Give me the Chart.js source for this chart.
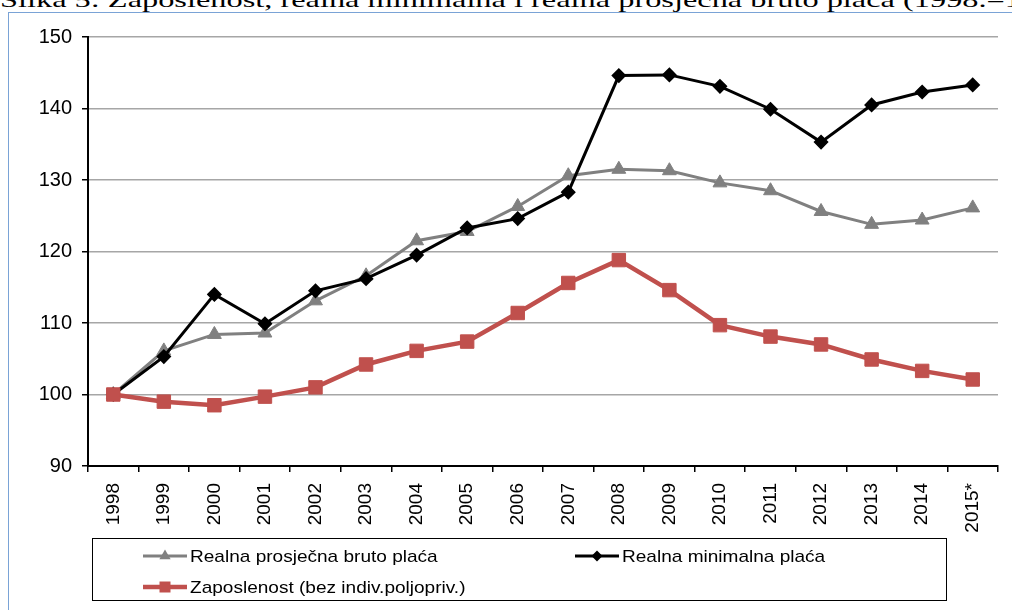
<!DOCTYPE html>
<html>
<head>
<meta charset="utf-8">
<script src="https://cdn.jsdelivr.net/npm/chart.js@4.4.1/dist/chart.umd.min.js"></script>
<style>
  html, body { margin: 0; padding: 0; background: #fff; overflow: hidden; }
  body { width: 1012px; height: 610px; position: relative; }
  #title { position: absolute; left: 0; top: -11px; white-space: nowrap;
           font-family: "Liberation Serif", "Times New Roman", serif; font-size: 22px; line-height: 22px;
           color: #000; transform-origin: 0 0; }
  #frame { position: absolute; left: 8px; top: 12px; width: 1200px; height: 800px;
           border: 1.5px solid #7aa3d6; box-sizing: border-box; }
  #wrap { position: absolute; left: 9px; top: 13px; width: 1003px; height: 597px; }
</style>
</head>
<body>
<div id="title">Slika 5: Zaposlenost, realna minimalna i realna prosječna bruto plaća (1998.=100)</div>
<div id="frame"></div>
<div id="wrap"><canvas id="c" width="1003" height="597"></canvas></div>
<script>
const categories = ["1998","1999","2000","2001","2002","2003","2004","2005","2006","2007","2008","2009","2010","2011","2012","2013","2014","2015*"];
const prosjecnaPlaca = [100, 106.1, 108.4, 108.6, 113.1, 116.6, 121.5, 122.8, 126.3, 130.6, 131.5, 131.3, 129.6, 128.5, 125.6, 123.8, 124.4, 126.1];
const minimalnaPlaca = [100, 105.3, 114.0, 109.9, 114.5, 116.2, 119.5, 123.3, 124.6, 128.3, 144.6, 144.7, 143.1, 139.9, 135.3, 140.5, 142.3, 143.3];
const zaposlenost    = [100, 99.0, 98.5, 99.7, 101.0, 104.2, 106.1, 107.4, 111.4, 115.6, 118.8, 114.6, 109.7, 108.1, 107.0, 104.9, 103.3, 102.1];
const seriesLabels = ["Realna prosječna bruto plaća", "Realna minimalna plaća", "Zaposlenost (bez indiv.poljopriv.)"];
const yTicks = [90, 100, 110, 120, 130, 140, 150];

// fit title width
(function(){
  const t = document.getElementById('title');
  const cv = document.createElement('canvas').getContext('2d');
  cv.font = '22px "Liberation Serif"';
  const w = cv.measureText('Slika 5: Zaposlenost, realna minimalna i realna prosječna bruto plaća ').width;
  t.style.transform = 'scaleX(' + (903 / w) + ')';
})();

function drawMarker(ctx, style, x, y, r, fill) {
  ctx.fillStyle = fill;
  ctx.beginPath();
  if (style === 'triangle') {
    ctx.moveTo(x, y - r);
    ctx.lineTo(x + r * 0.866, y + r * 0.5);
    ctx.lineTo(x - r * 0.866, y + r * 0.5);
  } else if (style === 'rectRot') {
    ctx.moveTo(x, y - r); ctx.lineTo(x + r, y); ctx.lineTo(x, y + r); ctx.lineTo(x - r, y);
  } else {
    ctx.rect(x - r, y - r, 2 * r, 2 * r);
  }
  ctx.closePath();
  ctx.fill();
}

const boxLegend = {
  id: 'boxLegend',
  afterDraw(chart) {
    const ctx = chart.ctx;
    ctx.save();
    ctx.strokeStyle = '#000';
    ctx.lineWidth = 1;
    ctx.strokeRect(83.5, 525.5, 854, 62);
    const spots = [[134, 543], [566, 543], [134, 574]];
    const mk = [['triangle', 6.5], ['rectRot', 5.5], ['rect', 5.5]];
    chart.data.datasets.forEach((ds, i) => {
      const [x, y] = spots[i];
      ctx.strokeStyle = ds.borderColor;
      ctx.lineWidth = ds.borderWidth;
      ctx.beginPath(); ctx.moveTo(x, y); ctx.lineTo(x + 44, y); ctx.stroke();
      drawMarker(ctx, mk[i][0], x + 22, y, mk[i][1], ds.pointBackgroundColor);
      ctx.save();
      ctx.translate(x + 47, y);
      ctx.scale(1.12, 1);
      ctx.fillStyle = '#000';
      ctx.font = '17px "Liberation Sans", Arial, sans-serif';
      ctx.textBaseline = 'middle';
      ctx.fillText(ds.label, 0, 1);
      ctx.restore();
    });
    ctx.restore();
  }
};

new Chart(document.getElementById('c'), {
  type: 'line',
  data: {
    labels: categories,
    datasets: [
      { label: seriesLabels[0], data: prosjecnaPlaca, borderColor: '#808080', backgroundColor: '#808080',
        pointBackgroundColor: '#808080', pointBorderColor: '#808080', borderWidth: 3,
        pointStyle: 'triangle', pointRadius: 8, pointBorderWidth: 1, order: 3, tension: 0 },
      { label: seriesLabels[1], data: minimalnaPlaca, borderColor: '#000000', backgroundColor: '#000000',
        pointBackgroundColor: '#000000', pointBorderColor: '#000000', borderWidth: 3,
        pointStyle: 'rectRot', pointRadius: 6.5, pointBorderWidth: 1.5, order: 2, tension: 0 },
      { label: seriesLabels[2], data: zaposlenost, borderColor: '#c0504d', backgroundColor: '#c0504d',
        pointBackgroundColor: '#c0504d', pointBorderColor: '#c0504d', borderWidth: 4.5,
        pointStyle: 'rect', pointRadius: 9.5, pointBorderWidth: 1, order: 1, tension: 0 }
    ]
  },
  options: {
    responsive: false,
    animation: false,
    events: [],
    layout: { padding: { left: 0, top: 24, right: 14, bottom: 74 } },
    plugins: { legend: { display: false }, tooltip: { enabled: false }, title: { display: false } },
    scales: {
      x: {
        type: 'category',
        offset: true,
        grid: { offset: true, drawOnChartArea: false, drawTicks: true, tickLength: 6, color: '#000', lineWidth: 1.5 },
        border: { display: true, color: '#000', width: 2 },
        ticks: { minRotation: 90, maxRotation: 90, autoSkip: false, color: '#000', padding: 11,
                 font: { family: '"Liberation Sans", Arial, sans-serif', size: 19 } },
        afterFit: s => { s.height = 70; }
      },
      y: {
        min: 90, max: 150,
        afterBuildTicks: s => { s.ticks = yTicks.map(v => ({ value: v })); },
        grid: { color: '#a6a6a6', lineWidth: 1.5, tickColor: '#000', tickLength: 6, drawTicks: true },
        border: { display: true, color: '#000', width: 2 },
        ticks: { color: '#000', padding: 10, font: { family: '"Liberation Sans", Arial, sans-serif', size: 20 } },
        afterFit: s => { s.width = 79; }
      }
    }
  },
  plugins: [boxLegend]
});
</script>
</body>
</html>
